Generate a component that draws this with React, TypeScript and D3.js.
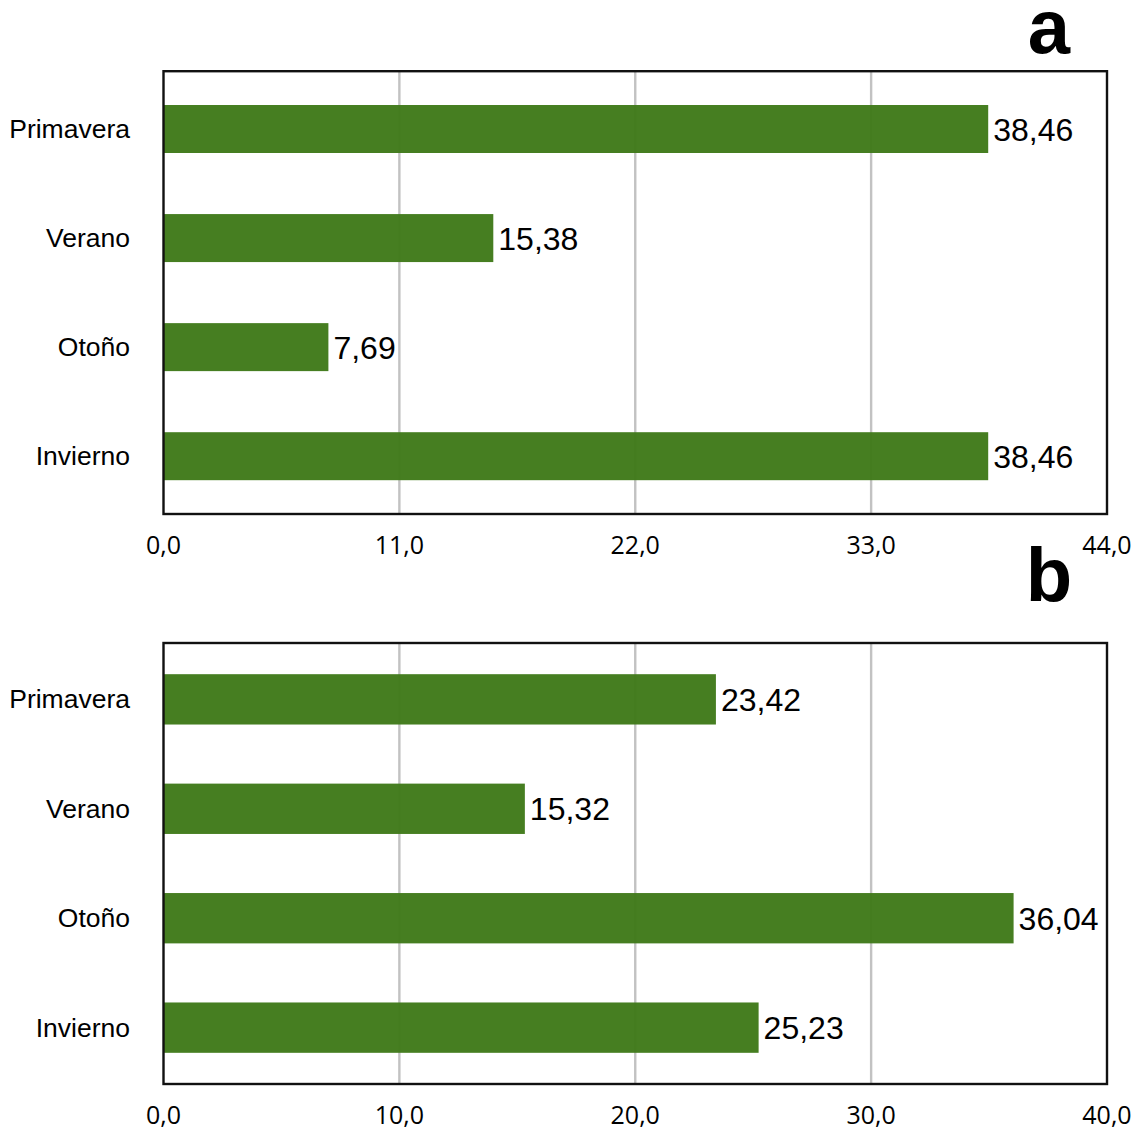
import React from "react";
import * as d3 from "d3";

const categories = ["Primavera", "Verano", "Otoño", "Invierno"];
const valuesA = [38.46, 15.38, 7.69, 38.46];
const valuesB = [23.42, 15.32, 36.04, 25.23];
const ticksA = [0, 11, 22, 33, 44];
const ticksB = [0, 10, 20, 30, 40];
const panelLetters = ["a", "b"];

const W = 1138;
const H = 1132;
const BAR = "#407a1a";
const GRID = "#c2c2c2";
const SANS = "'Liberation Sans', Arial, Helvetica, sans-serif";
const TICKFONT = "'Open Sans', 'Liberation Sans', sans-serif";

const fmt1 = (v: number) => d3.format(".1f")(v).replace(".", ",");
const fmt2 = (v: number) => d3.format(".2f")(v).replace(".", ",");

type PanelProps = {
  values: number[];
  ticks: number[];
  top: number;
  bottom: number;
  letter: string;
  letterY: number;
  padInner: number;
  padOuter: number;
};

function Panel({ values, ticks, top, bottom, letter, letterY, padInner, padOuter }: PanelProps) {
  const left = 163.5;
  const right = 1107;
  const x = d3.scaleLinear().domain([ticks[0], ticks[ticks.length - 1]]).range([left, right]);
  const y = d3
    .scaleBand<string>()
    .domain(categories)
    .range([top, bottom])
    .paddingInner(padInner)
    .paddingOuter(padOuter);
  const bw = y.bandwidth();
  return (
    <g>
      {ticks.slice(1, -1).map((t) => (
        <line key={"g" + t} x1={x(t)} x2={x(t)} y1={top} y2={bottom} stroke={GRID} strokeWidth={2.4} />
      ))}
      {categories.map((c, i) => (
        <rect key={"r" + c} x={x(0)} y={y(c)!} width={x(values[i]) - x(0)} height={bw} fill={BAR} fillOpacity={0.97} />
      ))}
      <rect x={left} y={top} width={right - left} height={bottom - top} fill="none" stroke="#111" strokeWidth={2.4} />
      {categories.map((c, i) => (
        <text
          key={"v" + c}
          x={x(values[i]) + 5}
          y={y(c)! + bw / 2}
          dy="0.36em"
          fontFamily={SANS}
          fontSize={32}
          fill="#000"
        >
          {fmt2(values[i])}
        </text>
      ))}
      {categories.map((c) => (
        <text
          key={"c" + c}
          x={130}
          y={y(c)! + bw / 2}
          dy="0.34em"
          textAnchor="end"
          fontFamily={SANS}
          fontSize={26.5}
          fill="#000"
        >
          {c}
        </text>
      ))}
      {ticks.map((t) => (
        <text
          key={"t" + t}
          x={x(t)}
          y={bottom + 40}
          textAnchor="middle"
          fontFamily={TICKFONT}
          fontSize={25}
          fill="#000"
        >
          {fmt1(t)}
        </text>
      ))}
      <text x={1049} y={letterY} textAnchor="middle" fontFamily={SANS} fontWeight="bold" fontSize={76} fill="#000">
        {letter}
      </text>
    </g>
  );
}

export default function App() {
  return (
    <svg
      width={W}
      height={H}
      style={{ position: "absolute", left: 0, top: 0, background: "#fff" }}
    >
      <rect x={0} y={0} width={W} height={H} fill="#fff" />
      <Panel values={valuesA} ticks={ticksA} top={71.2} bottom={514} letter={panelLetters[0]} letterY={53} padInner={0.56} padOuter={0.31} />
      <Panel values={valuesB} ticks={ticksB} top={643} bottom={1084} letter={panelLetters[1]} letterY={601} padInner={0.54} padOuter={0.285} />
    </svg>
  );
}
